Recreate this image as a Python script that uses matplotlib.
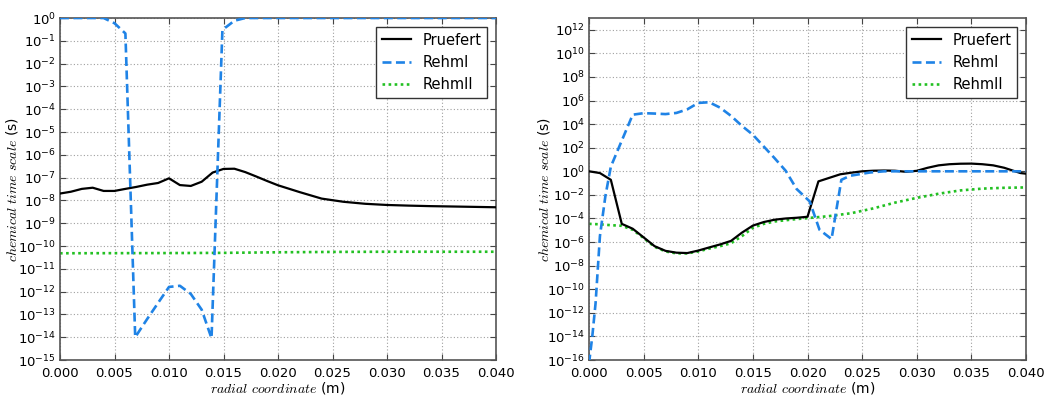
import matplotlib
matplotlib.use("Agg")
import matplotlib.pyplot as plt
from matplotlib.ticker import NullLocator, FixedLocator

plt.rcParams['font.family'] = ['DejaVu Sans']
plt.rcParams['mathtext.fontset'] = 'cm'

# ---------------- data: left panel ----------------
left_pruefert_x = [0.000, 0.001, 0.002, 0.003, 0.004, 0.005, 0.006, 0.007, 0.008, 0.009,
                   0.010, 0.011, 0.012, 0.013, 0.014, 0.015, 0.016, 0.017, 0.018, 0.019,
                   0.020, 0.022, 0.024, 0.026, 0.028, 0.030, 0.032, 0.034, 0.036, 0.038, 0.040]
left_pruefert_y = [2.0e-8, 2.4e-8, 3.2e-8, 3.6e-8, 2.6e-8, 2.6e-8, 3.2e-8, 3.9e-8, 4.9e-8, 5.8e-8,
                   9.3e-8, 4.7e-8, 4.3e-8, 6.6e-8, 1.66e-7, 2.4e-7, 2.45e-7, 1.74e-7, 1.12e-7, 7.1e-8,
                   4.6e-8, 2.3e-8, 1.2e-8, 8.7e-9, 7.1e-9, 6.3e-9, 5.9e-9, 5.6e-9, 5.4e-9, 5.2e-9, 5.0e-9]

left_rehm1_x = [0.000, 0.002, 0.004, 0.005, 0.006, 0.0069, 0.008, 0.009, 0.010, 0.011,
                0.012, 0.013, 0.0139, 0.0149, 0.016, 0.017, 0.020, 0.030, 0.040]
left_rehm1_y = [1.0, 1.0, 1.0, 0.59, 0.21, 1.0e-14, 6.3e-14, 3.2e-13, 1.6e-12, 1.8e-12,
                7.9e-13, 1.6e-13, 9.0e-15, 0.30, 0.76, 1.0, 1.0, 1.0, 1.0]

left_rehm2_x = [0.000, 0.010, 0.015, 0.020, 0.025, 0.030, 0.040]
left_rehm2_y = [4.8e-11, 4.9e-11, 5.0e-11, 5.3e-11, 5.5e-11, 5.6e-11, 5.6e-11]

# ---------------- data: right panel ----------------
right_pruefert_x = [0.000, 0.001, 0.002, 0.003, 0.004, 0.005, 0.006, 0.007, 0.008, 0.009,
                    0.010, 0.011, 0.012, 0.013, 0.014, 0.015, 0.016, 0.017, 0.018, 0.019,
                    0.020, 0.021, 0.022, 0.023, 0.024, 0.025, 0.026, 0.027, 0.028, 0.029,
                    0.030, 0.031, 0.032, 0.033, 0.034, 0.035, 0.036, 0.037, 0.038, 0.039,
                    0.0395, 0.040]
right_pruefert_y = [1.0, 0.71, 0.19, 3.5e-5, 1.35e-5, 2.5e-6, 4.5e-7, 1.8e-7, 1.26e-7, 1.17e-7,
                    1.9e-7, 3.5e-7, 6.3e-7, 1.26e-6, 6.3e-6, 2.5e-5, 5.0e-5, 7.9e-5, 1.0e-4, 1.15e-4,
                    1.4e-4, 0.14, 0.28, 0.56, 0.76, 1.0, 1.12, 1.17, 1.12, 0.91,
                    1.1, 2.0, 3.2, 4.0, 4.4, 4.5, 4.0, 3.2, 2.0, 1.0,
                    0.71, 0.63]

right_rehm1_x = [0.000, 0.0003, 0.0006, 0.0008, 0.001, 0.0015, 0.002, 0.003, 0.004, 0.005,
                 0.006, 0.007, 0.008, 0.009, 0.010, 0.011, 0.012, 0.013, 0.014, 0.015,
                 0.016, 0.017, 0.018, 0.019, 0.0202, 0.0211, 0.0222, 0.0231, 0.0239, 0.0257,
                 0.027, 0.040]
right_rehm1_y = [5e-17, 1e-14, 6.3e-12, 4.5e-9, 3.2e-6, 7.9e-3, 2.5, 400, 6.3e4, 8.5e4,
                 7.9e4, 7.1e4, 8.9e4, 1.8e5, 6.3e5, 7.2e5, 2.5e5, 5.0e4, 7.1e3, 1.26e3,
                 126, 12.6, 1.12, 3.2e-2, 2.8e-3, 1.1e-5, 1.8e-6, 0.19, 0.42, 0.79,
                 1.0, 1.0]

right_rehm2_x = [0.000, 0.001, 0.002, 0.003, 0.004, 0.005, 0.006, 0.007, 0.008, 0.009,
                 0.010, 0.011, 0.012, 0.013, 0.014, 0.015, 0.016, 0.017, 0.018, 0.019,
                 0.020, 0.022, 0.024, 0.026, 0.028, 0.030, 0.032, 0.034, 0.036, 0.038, 0.040]
right_rehm2_y = [3.5e-5, 3.2e-5, 2.7e-5, 2.4e-5, 1.1e-5, 2.2e-6, 4.0e-7, 1.6e-7, 1.1e-7, 1.1e-7,
                 1.6e-7, 2.8e-7, 4.5e-7, 7.9e-7, 3.2e-6, 1.6e-5, 3.5e-5, 5.6e-5, 7.1e-5, 8.9e-5,
                 1.07e-4, 1.6e-4, 2.8e-4, 7.1e-4, 2.2e-3, 5.6e-3, 1.26e-2, 2.4e-2, 3.4e-2, 4.0e-2, 4.3e-2]

series_labels = ['Pruefert', 'RehmI', 'RehmII']
x_ticks = [0.000, 0.005, 0.010, 0.015, 0.020, 0.025, 0.030, 0.035, 0.040]
x_tick_labels = ['0.000', '0.005', '0.010', '0.015', '0.020', '0.025', '0.030', '0.035', '0.040']
left_y_exponents = list(range(-15, 1))
right_y_exponents = list(range(-16, 13, 2))

# ---------------- styling ----------------
c_black = '#000000'
c_blue = '#1f83e6'
c_green = '#22c022'

fig = plt.figure(figsize=(10.49, 3.97), dpi=100)
ax1 = fig.add_axes([60/1049, 1 - 360/397, 436/1049, 342/397])
ax2 = fig.add_axes([589/1049, 1 - 360/397, 437/1049, 342/397])

panels = [
    (ax1, [(left_pruefert_x, left_pruefert_y), (left_rehm1_x, left_rehm1_y), (left_rehm2_x, left_rehm2_y)],
     (1e-15, 1.0), left_y_exponents, -0.092),
    (ax2, [(right_pruefert_x, right_pruefert_y), (right_rehm1_x, right_rehm1_y), (right_rehm2_x, right_rehm2_y)],
     (1e-16, 1e13), right_y_exponents, -0.084),
]

for ax, data, ylim, yexps, ylab_x in panels:
    (px, py), (bx, by), (gx, gy) = data
    ax.plot(px, py, color=c_black, lw=1.6, label=series_labels[0], zorder=3)
    ax.plot(bx, by, color=c_blue, lw=1.9, dashes=(3.4, 1.7), label=series_labels[1], zorder=4)
    ax.plot(gx, gy, color=c_green, lw=1.9, dashes=(1.0, 1.3), label=series_labels[2], zorder=2)
    ax.set_yscale('log')
    ax.set_xlim(0, 0.04)
    ax.set_ylim(*ylim)
    ax.yaxis.set_major_locator(FixedLocator([10.0**e for e in yexps]))
    ax.yaxis.set_minor_locator(NullLocator())
    ax.set_xticks(x_ticks)
    ax.set_xticklabels(x_tick_labels)
    ax.tick_params(axis='both', which='both', direction='in', top=True, right=True,
                   labelsize=9.5, length=4, width=0.8, color='#444444')
    ax.tick_params(axis='y', pad=3)
    ax.tick_params(axis='x', pad=5)
    ax.grid(True, color='#a0a0a0', linestyle=(0, (1, 2)), lw=0.8)
    for s in ax.spines.values():
        s.set_color('#555555')
        s.set_linewidth(1.2)
    ax.set_xlabel(r'$radial\ coordinate$ (m)', fontsize=10, labelpad=0)
    ax.set_ylabel(r'$chemical\ time\ scale$ (s)', fontsize=10)
    ax.yaxis.set_label_coords(ylab_x, 0.5)
    leg = ax.legend(loc='upper right', fontsize=10.5, fancybox=False, framealpha=1,
                    edgecolor='#333333', handlelength=2.0, borderaxespad=0.6)
    leg.get_frame().set_linewidth(1.0)

fig.savefig('out.png', dpi=100)
